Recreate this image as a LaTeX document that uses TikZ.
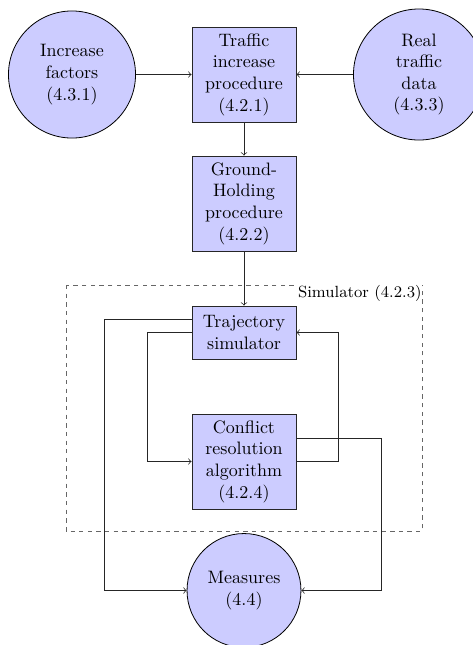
\documentclass[tikz,border=0pt]{standalone}
\usetikzlibrary{arrows}
\definecolor{nodefill}{RGB}{204,204,255}
\begin{document}
\begin{tikzpicture}[x=0.5556pt,y=-0.5556pt,
  procbox/.style={draw=black!85, line width=0.5pt, fill=nodefill, align=center,
    minimum width=57.8pt, minimum height=52.8pt, inner sep=2pt},
  datadisc/.style={draw=black, line width=0.45pt, fill=nodefill, circle, align=center, inner sep=0pt},
  link/.style={->, line width=0.4pt, black!85},
  simframe/.style={draw=black!60, line width=0.55pt, dash pattern=on 2.4pt off 2.4pt}]
  \clip (0,0) rectangle (473,645);

  % simulator frame and its label
  \coordinate (simNW) at (66,285);
  \coordinate (simSE) at (422,531);
  \draw[simframe] (simNW) rectangle (simSE);
  \node[anchor=north east, inner sep=0pt, fill=white, font=\small] (simlabel)
    at (simSE |- simNW) {Simulator (4.2.3)};

  % inputs and procedures
  \node[datadisc, minimum size=70.6pt] (inc) at (72,74.5) {Increase\\factors\\(4.3.1)};
  \node[datadisc, minimum size=72.8pt] (real) at (419,74.5) {Real\\traffic\\data\\(4.3.3)};
  \node[procbox] (tip) at (244,74.5) {Traffic\\increase\\procedure\\(4.2.1)};
  \node[procbox] (ghp) at (244,203.5) {Ground-\\Holding\\procedure\\(4.2.2)};

  % simulator blocks
  \node[procbox, minimum height=29.4pt] (traj) at (244,332.5) {Trajectory\\simulator};
  \node[procbox] (cra) at (244,461.5) {Conflict\\resolution\\algorithm\\(4.2.4)};

  % output
  \node[datadisc, minimum size=63.3pt] (meas) at (244,590.5) {Measures\\(4.4)};

  % connectors
  \draw[link] (inc) -- (tip);
  \draw[link] (real) -- (tip);
  \draw[link] (tip) -- (ghp);
  \draw[link] (ghp) -- (traj);
  \draw[link] ([yshift=7.4pt]traj.west) -- ++(-87,0) |- (meas);
  \draw[link] (traj.west) -- ++(-44,0) |- (cra);
  \draw[link] (cra.east) -- ++(42,0) |- (traj);
  \draw[link] ([yshift=12.8pt]cra.east) -- ++(85,0) |- (meas);
\end{tikzpicture}
\end{document}
